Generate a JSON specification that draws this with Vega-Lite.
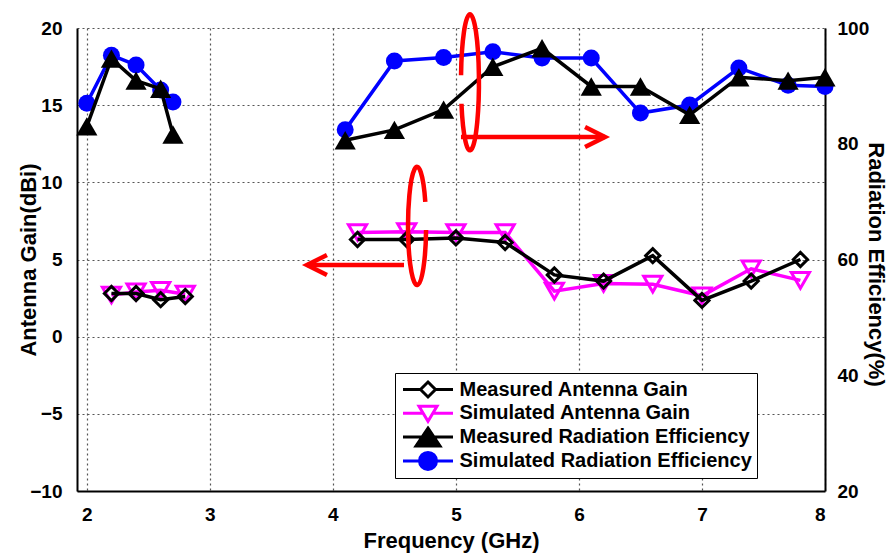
{
  "$schema": "https://vega.github.io/schema/vega-lite/v6.json",
  "width": 748,
  "height": 463,
  "autosize": {"type": "none"},
  "padding": {"left": 77, "top": 28, "right": 67, "bottom": 67},
  "background": "white",
  "config": {
    "view": {"stroke": null},
    "font": "Liberation Sans",
    "axis": {
      "labelFont": "Liberation Sans", "labelFontWeight": "bold", "labelFontSize": 19, "labelColor": "black",
      "titleFont": "Liberation Sans", "titleFontWeight": "bold", "titleFontSize": 22, "titleColor": "black",
      "domainColor": "black", "domainWidth": 2, "tickColor": "black", "tickWidth": 1.5,
      "gridColor": "#555555", "gridDash": [2, 3], "gridWidth": 1.2
    }
  },
  "datasets": {
    "pts": [
      {"s": "Measured Antenna Gain", "g": "a", "f": 2.2, "v": 2.8},
      {"s": "Measured Antenna Gain", "g": "a", "f": 2.4, "v": 2.8},
      {"s": "Measured Antenna Gain", "g": "a", "f": 2.6, "v": 2.4},
      {"s": "Measured Antenna Gain", "g": "a", "f": 2.8, "v": 2.6},
      {"s": "Measured Antenna Gain", "g": "b", "f": 4.2, "v": 6.3},
      {"s": "Measured Antenna Gain", "g": "b", "f": 4.6, "v": 6.3},
      {"s": "Measured Antenna Gain", "g": "b", "f": 5.0, "v": 6.4},
      {"s": "Measured Antenna Gain", "g": "b", "f": 5.4, "v": 6.1},
      {"s": "Measured Antenna Gain", "g": "b", "f": 5.8, "v": 4.0},
      {"s": "Measured Antenna Gain", "g": "b", "f": 6.2, "v": 3.6},
      {"s": "Measured Antenna Gain", "g": "b", "f": 6.6, "v": 5.25},
      {"s": "Measured Antenna Gain", "g": "b", "f": 7.0, "v": 2.35},
      {"s": "Measured Antenna Gain", "g": "b", "f": 7.4, "v": 3.6},
      {"s": "Measured Antenna Gain", "g": "b", "f": 7.8, "v": 5.0},
      {"s": "Simulated Antenna Gain", "g": "a", "f": 2.2, "v": 2.7},
      {"s": "Simulated Antenna Gain", "g": "a", "f": 2.4, "v": 2.9},
      {"s": "Simulated Antenna Gain", "g": "a", "f": 2.6, "v": 3.0},
      {"s": "Simulated Antenna Gain", "g": "a", "f": 2.8, "v": 2.75},
      {"s": "Simulated Antenna Gain", "g": "b", "f": 4.2, "v": 6.75},
      {"s": "Simulated Antenna Gain", "g": "b", "f": 4.6, "v": 6.8},
      {"s": "Simulated Antenna Gain", "g": "b", "f": 5.0, "v": 6.75},
      {"s": "Simulated Antenna Gain", "g": "b", "f": 5.4, "v": 6.75},
      {"s": "Simulated Antenna Gain", "g": "b", "f": 5.8, "v": 2.95},
      {"s": "Simulated Antenna Gain", "g": "b", "f": 6.2, "v": 3.45},
      {"s": "Simulated Antenna Gain", "g": "b", "f": 6.6, "v": 3.4},
      {"s": "Simulated Antenna Gain", "g": "b", "f": 7.0, "v": 2.65},
      {"s": "Simulated Antenna Gain", "g": "b", "f": 7.4, "v": 4.4},
      {"s": "Simulated Antenna Gain", "g": "b", "f": 7.8, "v": 3.65},
      {"s": "Measured Radiation Efficiency", "g": "a", "f": 2.0, "v": 83.0},
      {"s": "Measured Radiation Efficiency", "g": "a", "f": 2.2, "v": 94.7},
      {"s": "Measured Radiation Efficiency", "g": "a", "f": 2.4, "v": 90.9},
      {"s": "Measured Radiation Efficiency", "g": "a", "f": 2.6, "v": 89.5},
      {"s": "Measured Radiation Efficiency", "g": "a", "f": 2.7, "v": 81.6},
      {"s": "Measured Radiation Efficiency", "g": "b", "f": 4.1, "v": 80.6},
      {"s": "Measured Radiation Efficiency", "g": "b", "f": 4.5, "v": 82.4},
      {"s": "Measured Radiation Efficiency", "g": "b", "f": 4.9, "v": 85.9},
      {"s": "Measured Radiation Efficiency", "g": "b", "f": 5.3, "v": 93.3},
      {"s": "Measured Radiation Efficiency", "g": "b", "f": 5.7, "v": 96.5},
      {"s": "Measured Radiation Efficiency", "g": "b", "f": 6.1, "v": 89.9},
      {"s": "Measured Radiation Efficiency", "g": "b", "f": 6.5, "v": 89.9},
      {"s": "Measured Radiation Efficiency", "g": "b", "f": 6.9, "v": 85.0},
      {"s": "Measured Radiation Efficiency", "g": "b", "f": 7.3, "v": 91.5},
      {"s": "Measured Radiation Efficiency", "g": "b", "f": 7.7, "v": 90.9},
      {"s": "Measured Radiation Efficiency", "g": "b", "f": 8.0, "v": 91.5},
      {"s": "Simulated Radiation Efficiency", "g": "a", "f": 2.0, "v": 87.0},
      {"s": "Simulated Radiation Efficiency", "g": "a", "f": 2.2, "v": 95.3},
      {"s": "Simulated Radiation Efficiency", "g": "a", "f": 2.4, "v": 93.6},
      {"s": "Simulated Radiation Efficiency", "g": "a", "f": 2.6, "v": 89.3},
      {"s": "Simulated Radiation Efficiency", "g": "a", "f": 2.7, "v": 87.2},
      {"s": "Simulated Radiation Efficiency", "g": "b", "f": 4.1, "v": 82.4},
      {"s": "Simulated Radiation Efficiency", "g": "b", "f": 4.5, "v": 94.3},
      {"s": "Simulated Radiation Efficiency", "g": "b", "f": 4.9, "v": 94.9},
      {"s": "Simulated Radiation Efficiency", "g": "b", "f": 5.3, "v": 95.9},
      {"s": "Simulated Radiation Efficiency", "g": "b", "f": 5.7, "v": 94.8},
      {"s": "Simulated Radiation Efficiency", "g": "b", "f": 6.1, "v": 94.8},
      {"s": "Simulated Radiation Efficiency", "g": "b", "f": 6.5, "v": 85.3},
      {"s": "Simulated Radiation Efficiency", "g": "b", "f": 6.9, "v": 86.7},
      {"s": "Simulated Radiation Efficiency", "g": "b", "f": 7.3, "v": 93.1},
      {"s": "Simulated Radiation Efficiency", "g": "b", "f": 7.7, "v": 90.1},
      {"s": "Simulated Radiation Efficiency", "g": "b", "f": 8.0, "v": 89.9}
    ]
  },
  "data": {"name": "pts"},
  "resolve": {"scale": {"y": "independent"}, "axis": {"x": "independent"}},
  "layer": [
    {
      "transform": [{"filter": "datum.s === 'Simulated Antenna Gain'"}],
      "mark": {"type": "line", "color": "#FF00FF", "strokeWidth": 3.5},
      "encoding": {
        "x": {"field": "f", "type": "quantitative", "scale": {"domain": [1.92, 8], "nice": false, "zero": false},
          "axis": {
            "values": [2, 3, 4, 5, 6, 7, 8],
            "format": "d",
            "grid": true,
            "tickSize": 0,
            "labelPadding": 14,
            "title": "Frequency (GHz)",
            "titleX": 374, "titleY": 49, "titleBaseline": "middle", "titleAlign": "center"
          }},
        "y": {"field": "v", "type": "quantitative", "scale": {"domain": [-10, 20], "nice": false, "zero": false},
          "axis": {
            "values": [-10, -5, 0, 5, 10, 15, 20],
            "format": "d",
            "grid": true,
            "tickSize": 0,
            "labelPadding": 15,
            "title": "Antenna Gain(dBi)",
            "titleX": -49, "titleY": 231.5, "titleBaseline": "middle", "titleAlign": "center", "titleAngle": -90
          }},
        "detail": {"field": "g"}
      }
    },
    {
      "transform": [{"filter": "datum.s === 'Simulated Antenna Gain'"}],
      "mark": {"type": "point", "shape": "triangle-down", "filled": false, "stroke": "#FF00FF", "strokeWidth": 3, "size": 330, "opacity": 1},
      "encoding": {
        "x": {"field": "f", "type": "quantitative", "axis": null},
        "y": {"field": "v", "type": "quantitative", "scale": {"domain": [-10, 20], "nice": false, "zero": false}, "axis": null}
      }
    },
    {
      "transform": [{"filter": "datum.s === 'Measured Antenna Gain'"}],
      "mark": {"type": "line", "color": "black", "strokeWidth": 3.5},
      "encoding": {
        "x": {"field": "f", "type": "quantitative", "axis": null},
        "y": {"field": "v", "type": "quantitative", "scale": {"domain": [-10, 20], "nice": false, "zero": false}, "axis": null},
        "detail": {"field": "g"}
      }
    },
    {
      "transform": [{"filter": "datum.s === 'Measured Antenna Gain'"}],
      "mark": {"type": "point", "shape": "diamond", "filled": false, "stroke": "black", "strokeWidth": 3, "size": 200, "opacity": 1},
      "encoding": {
        "x": {"field": "f", "type": "quantitative", "axis": null},
        "y": {"field": "v", "type": "quantitative", "scale": {"domain": [-10, 20], "nice": false, "zero": false}, "axis": null}
      }
    },
    {
      "transform": [{"filter": "false"}],
      "mark": {"type": "point", "opacity": 1, "strokeWidth": 3},
      "encoding": {
        "shape": {"field": "s", "type": "nominal",
          "scale": {"domain": ["Measured Antenna Gain", "Simulated Antenna Gain", "Measured Radiation Efficiency", "Simulated Radiation Efficiency"],
            "range": [
              "M-2.5,0L-0.75,0M0.75,0L2.5,0M0,-0.75L0.75,0L0,0.75L-0.75,0Z",
              "M-2.5,0L-0.5,0M0.5,0L2.5,0M-0.9,-0.7L0.9,-0.7L0,0.8Z",
              "M-2.5,0L2.5,0M0,-0.9L1.2,0.9L-1.2,0.9Z",
              "M-2.5,0L2.5,0M0.85,0A0.85,0.85,0,1,1,-0.85,0A0.85,0.85,0,1,1,0.85,0Z"
            ]},
          "legend": {
            "title": null,
            "orient": "none",
            "legendX": 318,
            "legendY": 345,
            "padding": 5,
            "symbolSize": 400,
            "symbolStrokeWidth": 3,
            "symbolOffset": 16.5,
            "labelOffset": 20,
            "clipHeight": 23,
            "rowPadding": 0.8,
            "labelFont": "Liberation Sans",
            "labelFontSize": 20,
            "labelFontWeight": "bold",
            "labelColor": "black",
            "labelLimit": 500,
            "strokeColor": "black",
            "fillColor": "white",
            "encode": {"legend": {"update": {"strokeWidth": {"value": 2}}}}
          }},
        "stroke": {"field": "s", "type": "nominal",
          "scale": {"domain": ["Measured Antenna Gain", "Simulated Antenna Gain", "Measured Radiation Efficiency", "Simulated Radiation Efficiency"],
            "range": ["black", "#FF00FF", "black", "#0000FF"]}},
        "fill": {"field": "s", "type": "nominal",
          "scale": {"domain": ["Measured Antenna Gain", "Simulated Antenna Gain", "Measured Radiation Efficiency", "Simulated Radiation Efficiency"],
            "range": ["white", "white", "black", "#0000FF"]}}
      }
    },
    {
      "data": {"values": [{"f": 4.684, "v": 7.17}]},
      "mark": {"type": "point", "shape": "M0.14,-0.41A0.153,1,0,1,0,0.153,0.068", "filled": false, "stroke": "#FF0000", "strokeWidth": 4.5, "size": 13924, "opacity": 1},
      "encoding": {
        "x": {"field": "f", "type": "quantitative", "axis": null},
        "y": {"field": "v", "type": "quantitative", "scale": {"domain": [-10, 20], "nice": false, "zero": false}, "axis": null}
      }
    },
    {
      "data": {"values": [{"f": 4.578, "f2": 3.789, "v": 4.64}]},
      "mark": {"type": "rule", "color": "#FF0000", "strokeWidth": 4.5},
      "encoding": {
        "x": {"field": "f", "type": "quantitative", "axis": null},
        "x2": {"field": "f2"},
        "y": {"field": "v", "type": "quantitative", "scale": {"domain": [-10, 20], "nice": false, "zero": false}, "axis": null}
      }
    },
    {
      "data": {"values": [{"f": 3.789, "v": 4.64}]},
      "mark": {"type": "point", "shape": "M1,-0.5L0,0L1,0.5", "filled": false, "stroke": "#FF0000", "strokeWidth": 4.5, "size": 1600, "opacity": 1},
      "encoding": {
        "x": {"field": "f", "type": "quantitative", "axis": null},
        "y": {"field": "v", "type": "quantitative", "scale": {"domain": [-10, 20], "nice": false, "zero": false}, "axis": null}
      }
    },
    {
      "transform": [{"filter": "datum.s === 'Simulated Radiation Efficiency'"}],
      "mark": {"type": "line", "color": "#0000FF", "strokeWidth": 3.5},
      "encoding": {
        "x": {"field": "f", "type": "quantitative", "axis": null},
        "y": {"field": "v", "type": "quantitative", "scale": {"domain": [20, 100], "nice": false, "zero": false},
          "axis": {
            "orient": "right",
            "values": [20, 40, 60, 80, 100],
            "grid": false,
            "tickSize": 0,
            "labelPadding": 12,
            "title": "Radiation Efficiency(%)",
            "titleX": 50, "titleY": 236, "titleBaseline": "middle", "titleAlign": "center", "titleAngle": 90
          }},
        "detail": {"field": "g"}
      }
    },
    {
      "transform": [{"filter": "datum.s === 'Simulated Radiation Efficiency'"}],
      "mark": {"type": "point", "shape": "circle", "filled": true, "color": "#0000FF", "size": 289, "opacity": 1},
      "encoding": {
        "x": {"field": "f", "type": "quantitative", "axis": null},
        "y": {"field": "v", "type": "quantitative", "scale": {"domain": [20, 100], "nice": false, "zero": false}, "axis": null}
      }
    },
    {
      "transform": [{"filter": "datum.s === 'Measured Radiation Efficiency'"}],
      "mark": {"type": "line", "color": "black", "strokeWidth": 3.5},
      "encoding": {
        "x": {"field": "f", "type": "quantitative", "axis": null},
        "y": {"field": "v", "type": "quantitative", "scale": {"domain": [20, 100], "nice": false, "zero": false}, "axis": null},
        "detail": {"field": "g"}
      }
    },
    {
      "transform": [{"filter": "datum.s === 'Measured Radiation Efficiency'"}],
      "mark": {"type": "point", "shape": "triangle-up", "filled": true, "color": "black", "size": 450, "opacity": 1},
      "encoding": {
        "x": {"field": "f", "type": "quantitative", "axis": null},
        "y": {"field": "v", "type": "quantitative", "scale": {"domain": [20, 100], "nice": false, "zero": false}, "axis": null}
      }
    },
    {
      "data": {"values": [{"f": 5.114, "v": 90.67}]},
      "mark": {"type": "point", "shape": "M-0.131,-0.1A0.132,1,0,1,1,-0.125,0.32", "filled": false, "stroke": "#FF0000", "strokeWidth": 4.5, "size": 18496, "opacity": 1},
      "encoding": {
        "x": {"field": "f", "type": "quantitative", "axis": null},
        "y": {"field": "v", "type": "quantitative", "scale": {"domain": [20, 100], "nice": false, "zero": false}, "axis": null}
      }
    },
    {
      "data": {"values": [{"f": 5.041, "f2": 6.212, "v": 81.17}]},
      "mark": {"type": "rule", "color": "#FF0000", "strokeWidth": 4.5},
      "encoding": {
        "x": {"field": "f", "type": "quantitative", "axis": null},
        "x2": {"field": "f2"},
        "y": {"field": "v", "type": "quantitative", "scale": {"domain": [20, 100], "nice": false, "zero": false}, "axis": null}
      }
    },
    {
      "data": {"values": [{"f": 6.212, "v": 81.17}]},
      "mark": {"type": "point", "shape": "M-1,-0.5L0,0L-1,0.5", "filled": false, "stroke": "#FF0000", "strokeWidth": 4.5, "size": 1600, "opacity": 1},
      "encoding": {
        "x": {"field": "f", "type": "quantitative", "axis": null},
        "y": {"field": "v", "type": "quantitative", "scale": {"domain": [20, 100], "nice": false, "zero": false}, "axis": null}
      }
    }
  ]
}
